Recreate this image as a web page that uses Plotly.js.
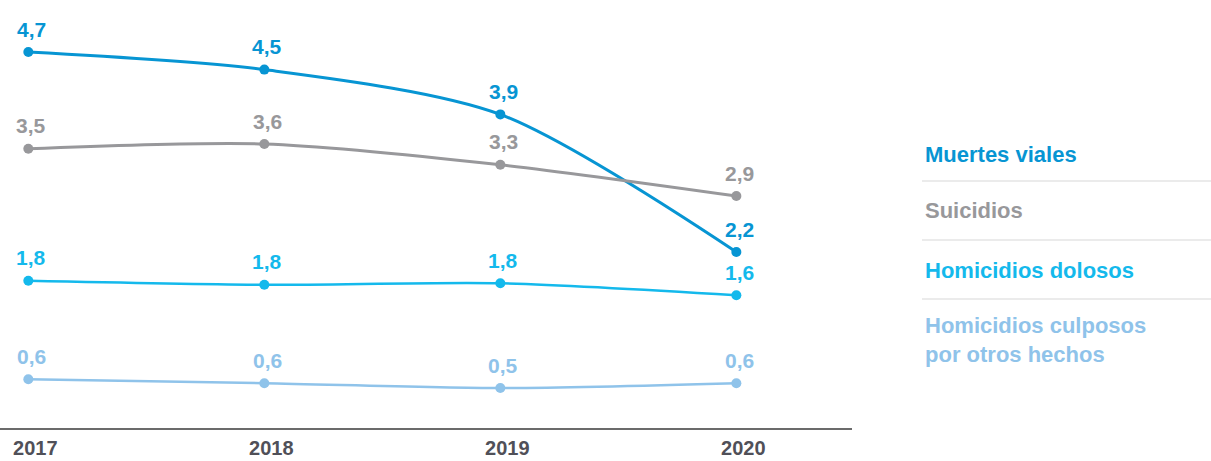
<!DOCTYPE html>
<html>
<head>
<meta charset="utf-8">
<script src="https://cdn.plot.ly/plotly-3.0.1.min.js"></script>
<style>
  body { margin: 0; background: #fff; }
  #plot { width: 1211px; height: 461px; }
</style>
</head>
<body>
<div id="plot"></div>
<script>
// Years on the x axis
let years = [2017, 2018, 2019, 2020];

// Series names (legend on the right)
let seriesNames = ["Muertes viales", "Suicidios", "Homicidios dolosos", "Homicidios culposos<br>por otros hechos"];

// Values
let muertesViales = [4.70, 4.48, 3.92, 2.20];
let suicidios = [3.49, 3.55, 3.29, 2.90];
let homicidiosDolosos = [1.84, 1.79, 1.81, 1.66];
let homicidiosCulposos = [0.61, 0.56, 0.50, 0.56];

// Printed labels above each point
let muertesVialesLabels = ["4,7", "4,5", "3,9", "2,2"];
let suicidiosLabels = ["3,5", "3,6", "3,3", "2,9"];
let homicidiosDolososLabels = ["1,8", "1,8", "1,8", "1,6"];
let homicidiosCulpososLabels = ["0,6", "0,6", "0,5", "0,6"];

let colors = ["#0795d3", "#98989b", "#14b9ec", "#8fc3ea"];
let lineWidths = [3, 3, 2.5, 2.5];

let allValues = [muertesViales, suicidios, homicidiosDolosos, homicidiosCulposos];
let allLabels = [muertesVialesLabels, suicidiosLabels, homicidiosDolososLabels, homicidiosCulpososLabels];

let font = "'Liberation Sans', Arial, sans-serif";

// Build one trace per series
let traces = allValues.map((vals, i) => ({
  x: years,
  y: vals,
  type: "scatter",
  mode: "lines+markers",
  name: seriesNames[i],
  line: { color: colors[i], width: lineWidths[i], shape: "spline", smoothing: 0.8 },
  marker: { color: colors[i], size: 10 },
  hoverinfo: "skip"
}));

// Value labels above the points
let annotations = [];
allValues.forEach((vals, i) => {
  vals.forEach((v, j) => {
    annotations.push({
      x: years[j],
      y: v,
      text: "<b>" + allLabels[i][j] + "</b>",
      showarrow: false,
      yshift: 23,
      xshift: 3,
      font: { family: font, size: 21, color: colors[i] }
    });
  });
});

// Plot area spans 0..852 px, legend block lives to its right
let plotRight = 852;
let plotBottom = 428;
let legendY = [154, 210, 270, 340];
let separatorY = [181, 240, 299];

seriesNames.forEach((name, i) => {
  annotations.push({
    xref: "paper",
    yref: "paper",
    x: 923 / plotRight,
    y: (plotBottom - legendY[i]) / plotBottom,
    xanchor: "left",
    yanchor: "middle",
    align: "left",
    text: "<b>" + name + "</b>",
    showarrow: false,
    font: { family: font, size: 22, color: colors[i] }
  });
});

let shapes = separatorY.map(y => ({
  type: "line",
  xref: "paper",
  yref: "paper",
  x0: 922 / plotRight,
  x1: 1211 / plotRight,
  y0: (plotBottom - y) / plotBottom,
  y1: (plotBottom - y) / plotBottom,
  line: { color: "#e4e4e4", width: 1.5 }
}));

let layout = {
  width: 1211,
  height: 461,
  margin: { l: 0, r: 1211 - plotRight, t: 0, b: 461 - plotBottom },
  paper_bgcolor: "#fff",
  plot_bgcolor: "#fff",
  showlegend: false,
  xaxis: {
    range: [2016.88, 2020.49],
    tickvals: years,
    ticktext: years.map(y => "<b>" + y + "</b>"),
    ticklabelshift: 7,
    ticklabelstandoff: 1,
    showgrid: false,
    zeroline: false,
    showline: true,
    linecolor: "#6b6b6b",
    linewidth: 2,
    ticks: "",
    tickfont: { family: font, size: 20, color: "#505058" },
    fixedrange: true
  },
  yaxis: {
    range: [0, plotBottom / 80],
    showgrid: false,
    zeroline: false,
    showticklabels: false,
    showline: false,
    fixedrange: true
  },
  annotations: annotations,
  shapes: shapes
};

Plotly.newPlot("plot", traces, layout, { displayModeBar: false, staticPlot: true });
</script>
</body>
</html>
